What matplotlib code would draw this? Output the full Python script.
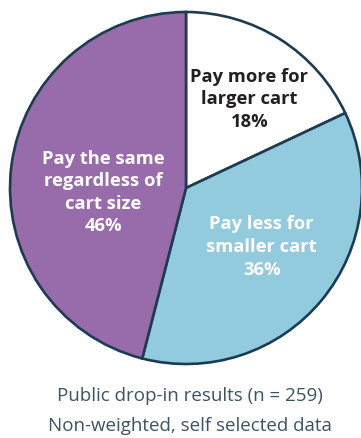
import numpy as np
import matplotlib.pyplot as plt

# survey shares, clockwise from 12 o'clock
shares = [18, 36, 46]
labels = ['Pay more for\nlarger cart', 'Pay less for\nsmaller cart', 'Pay the same\nregardless of\ncart size']
colors = ['#ffffff', '#92cbde', '#986bab']
text_colors = ['#231f20', '#ffffff', '#ffffff']
# label centres in pie units (radius = 1)
label_pos = [(0.36, 0.51), (0.43, -0.33), (-0.47, -0.02)]

edge = '#1c3c52'

fig = plt.figure(figsize=(3.61, 4.39), dpi=100)
ax = fig.add_axes([10/361, 74/439, 352/361, 352/439])
ax.pie(shares, colors=colors, startangle=90, counterclock=False, radius=1,
       wedgeprops=dict(edgecolor=edge, linewidth=1.9))
ax.set_xlim(-1, 1)
ax.set_ylim(-1, 1)
ax.set_aspect('auto')
ax.axis('off')

for lab, val, (x, y), tc in zip(labels, shares, label_pos, text_colors):
    ax.text(x, y, f'{lab}\n{val}%', ha='center', va='center', color=tc,
            fontsize=13.2, fontweight='bold', family='Open Sans', linespacing=1.33)

fig.text(0.525, 1 - 396/439, 'Public drop-in results (n = 259)', ha='center', va='center',
         color='#3b5363', fontsize=13.5, family='Open Sans')
fig.text(0.525, 1 - 426/439, 'Non-weighted, self selected data', ha='center', va='center',
         color='#3b5363', fontsize=13.5, family='Open Sans')

fig.savefig('out.png', dpi=100)
